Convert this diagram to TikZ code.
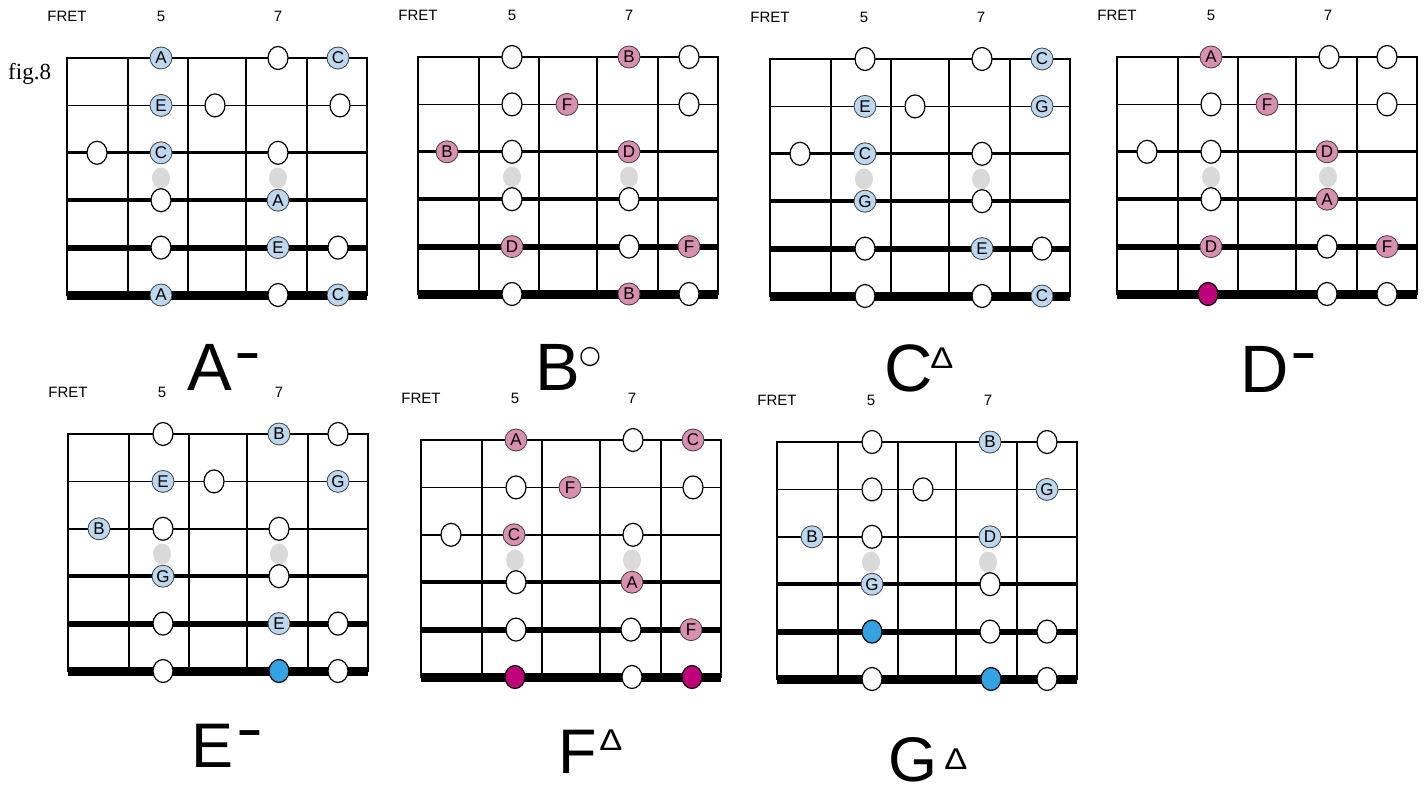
\documentclass[tikz,border=0pt]{standalone}
\usepackage{fontspec}
\setmainfont{Liberation Sans}
\newfontfamily\figfont{Liberation Serif}
\newfontfamily\symfont{DejaVu Sans}
\usepackage{tikz}
\usetikzlibrary{shapes.geometric}
\definecolor{noteblue}{RGB}{189,215,238}
\definecolor{notepink}{RGB}{217,143,176}
\definecolor{rootpink}{RGB}{192,0,122}
\definecolor{rootblue}{RGB}{52,163,228}
\definecolor{inlaygray}{RGB}{217,217,217}
\tikzset{
	opennote/.style={draw,ellipse,fill=white,line width=1.2pt,minimum width=20pt,minimum height=23pt,inner sep=0pt},
	bluenote/.style={draw=black!75,circle,fill=noteblue,line width=0.8pt,minimum size=22pt,inner sep=0pt,font=\fontsize{17}{17}\selectfont},
	pinknote/.style={bluenote,fill=notepink},
	pinkroot/.style={opennote,fill=rootpink},
	blueroot/.style={opennote,fill=rootblue},
	inlay/.style={ellipse,fill=inlaygray,minimum width=18pt,minimum height=21pt,inner sep=0pt},
	fretlabel/.style={inner sep=0pt,font=\fontsize{15}{15}\selectfont},
	chord/.style={anchor=base,inner sep=0pt,font=\fontsize{67}{67}\selectfont},
	chordsup/.style={inner sep=0pt},
}
\newcommand{\fretboard}{%
	\draw[line width=2pt] (0,-0.6)--(0,237.6) (61,-0.6)--(61,237.6) (121,-0.6)--(121,237.6)
		(179,-0.6)--(179,237.6) (240,-0.6)--(240,237.6) (300,-0.6)--(300,237.6);
	\draw[line width=1.4pt] (0,0)--(300,0);
	\draw[line width=1.4pt] (0,47.4)--(300,47.4);
	\draw[line width=2.6pt] (0,94.8)--(300,94.8);
	\draw[line width=4pt] (0,142.2)--(300,142.2);
	\draw[line width=6pt] (0,189.6)--(300,189.6);
	\draw[line width=9pt] (0,237)--(300,237);
	\node[inlay] (dot5) at (94,120) {};
	\node[inlay] (dot7) at (211,120) {};
	\node[fretlabel] (fret) at (0,-42) {FRET};
	\node[fretlabel] (five) at (94,-42) {5};
	\node[fretlabel] (seven) at (211,-42) {7};
}
\begin{document}
\begin{tikzpicture}[x=1pt,y=-1pt]
	\useasboundingbox (0,0) rectangle (1424,789);
	\node[anchor=base west,inner sep=0pt,font=\figfont\fontsize{23}{23}\selectfont] (fig) at (8,80) {fig.8};
	% A minor
	\begin{scope}[shift={(67,58)},name prefix=am-]
		\fretboard
		\node[bluenote] (s1f5) at (94,0) {A};
		\node[opennote] (s1f7) at (211,0) {};
		\node[bluenote] (s1f8) at (271,0) {C};
		\node[bluenote] (s2f5) at (94,47.4) {E};
		\node[opennote] (s2f6) at (148,47.4) {};
		\node[opennote] (s2f8) at (273,47.4) {};
		\node[opennote] (s3f4) at (30,94.8) {};
		\node[bluenote] (s3f5) at (94,94.8) {C};
		\node[opennote] (s3f7) at (211,94.8) {};
		\node[opennote] (s4f5) at (94,142.2) {};
		\node[bluenote] (s4f7) at (211,142.2) {A};
		\node[opennote] (s5f5) at (94,189.6) {};
		\node[bluenote] (s5f7) at (211,189.6) {E};
		\node[opennote] (s5f8) at (271,189.6) {};
		\node[bluenote] (s6f5) at (94,237) {A};
		\node[opennote] (s6f7) at (211,237) {};
		\node[bluenote] (s6f8) at (271,237) {C};
	\end{scope}
	% B diminished
	\begin{scope}[shift={(418,57)},name prefix=bdim-]
		\fretboard
		\node[opennote] (s1f5) at (94,0) {};
		\node[pinknote] (s1f7) at (211,0) {B};
		\node[opennote] (s1f8) at (271,0) {};
		\node[opennote] (s2f5) at (94,47.4) {};
		\node[pinknote] (s2f6) at (149,47.4) {F};
		\node[opennote] (s2f8) at (271,47.4) {};
		\node[pinknote] (s3f4) at (29,94.8) {B};
		\node[opennote] (s3f5) at (94,94.8) {};
		\node[pinknote] (s3f7) at (211,94.8) {D};
		\node[opennote] (s4f5) at (94,142.2) {};
		\node[opennote] (s4f7) at (211,142.2) {};
		\node[pinknote] (s5f5) at (94,189.6) {D};
		\node[opennote] (s5f7) at (211,189.6) {};
		\node[pinknote] (s5f8) at (271,189.6) {F};
		\node[opennote] (s6f5) at (94,237) {};
		\node[pinknote] (s6f7) at (211,237) {B};
		\node[opennote] (s6f8) at (271,237) {};
	\end{scope}
	% C major 7
	\begin{scope}[shift={(770,59)},name prefix=cmaj-]
		\fretboard
		\node[opennote] (s1f5) at (95,0) {};
		\node[opennote] (s1f7) at (212,0) {};
		\node[bluenote] (s1f8) at (272,0) {C};
		\node[bluenote] (s2f5) at (95,47.4) {E};
		\node[opennote] (s2f6) at (145,47.4) {};
		\node[bluenote] (s2f8) at (272,47.4) {G};
		\node[opennote] (s3f4) at (30,94.8) {};
		\node[bluenote] (s3f5) at (95,94.8) {C};
		\node[opennote] (s3f7) at (212,94.8) {};
		\node[bluenote] (s4f5) at (95,142.2) {G};
		\node[opennote] (s4f7) at (212,142.2) {};
		\node[opennote] (s5f5) at (95,189.6) {};
		\node[bluenote] (s5f7) at (212,189.6) {E};
		\node[opennote] (s5f8) at (272,189.6) {};
		\node[opennote] (s6f5) at (95,237) {};
		\node[opennote] (s6f7) at (212,237) {};
		\node[bluenote] (s6f8) at (272,237) {C};
	\end{scope}
	% D minor
	\begin{scope}[shift={(1117,57)},name prefix=dm-]
		\fretboard
		\node[pinknote] (s1f5) at (94,0) {A};
		\node[opennote] (s1f7) at (212,0) {};
		\node[opennote] (s1f8) at (270,0) {};
		\node[opennote] (s2f5) at (94,47.4) {};
		\node[pinknote] (s2f6) at (150,47.4) {F};
		\node[opennote] (s2f8) at (270,47.4) {};
		\node[opennote] (s3f4) at (30,94.8) {};
		\node[opennote] (s3f5) at (94,94.8) {};
		\node[pinknote] (s3f7) at (210,94.8) {D};
		\node[opennote] (s4f5) at (94,142.2) {};
		\node[pinknote] (s4f7) at (210,142.2) {A};
		\node[pinknote] (s5f5) at (94,189.6) {D};
		\node[opennote] (s5f7) at (210,189.6) {};
		\node[pinknote] (s5f8) at (270,189.6) {F};
		\node[pinkroot] (s6f5) at (91,237) {};
		\node[opennote] (s6f7) at (210,237) {};
		\node[opennote] (s6f8) at (270,237) {};
	\end{scope}
	% E minor
	\begin{scope}[shift={(68,434)},name prefix=em-]
		\fretboard
		\node[opennote] (s1f5) at (95,0) {};
		\node[bluenote] (s1f7) at (211,0) {B};
		\node[opennote] (s1f8) at (270,0) {};
		\node[bluenote] (s2f5) at (95,47.4) {E};
		\node[opennote] (s2f6) at (146,47.4) {};
		\node[bluenote] (s2f8) at (270,47.4) {G};
		\node[bluenote] (s3f4) at (31,94.8) {B};
		\node[opennote] (s3f5) at (95,94.8) {};
		\node[opennote] (s3f7) at (211,94.8) {};
		\node[bluenote] (s4f5) at (95,142.2) {G};
		\node[opennote] (s4f7) at (211,142.2) {};
		\node[opennote] (s5f5) at (95,189.6) {};
		\node[bluenote] (s5f7) at (211,189.6) {E};
		\node[opennote] (s5f8) at (270,189.6) {};
		\node[opennote] (s6f5) at (95,237) {};
		\node[blueroot] (s6f7) at (211,237) {};
		\node[opennote] (s6f8) at (270,237) {};
	\end{scope}
	% F major 7
	\begin{scope}[shift={(421,440)},name prefix=fmaj-]
		\fretboard
		\node[pinknote] (s1f5) at (95,0) {A};
		\node[opennote] (s1f7) at (212,0) {};
		\node[pinknote] (s1f8) at (272,0) {C};
		\node[opennote] (s2f5) at (95,47.4) {};
		\node[pinknote] (s2f6) at (149,47.4) {F};
		\node[opennote] (s2f8) at (272,47.4) {};
		\node[opennote] (s3f4) at (30,94.8) {};
		\node[pinknote] (s3f5) at (93,94.8) {C};
		\node[opennote] (s3f7) at (212,94.8) {};
		\node[opennote] (s4f5) at (95,142.2) {};
		\node[pinknote] (s4f7) at (211,142.2) {A};
		\node[opennote] (s5f5) at (95,189.6) {};
		\node[opennote] (s5f7) at (210,189.6) {};
		\node[pinknote] (s5f8) at (270,189.6) {F};
		\node[pinkroot] (s6f5) at (94,237) {};
		\node[opennote] (s6f7) at (211,237) {};
		\node[pinkroot] (s6f8) at (271,237) {};
	\end{scope}
	% G major 7
	\begin{scope}[shift={(777,442)},name prefix=gmaj-]
		\fretboard
		\node[opennote] (s1f5) at (95,0) {};
		\node[bluenote] (s1f7) at (213,0) {B};
		\node[opennote] (s1f8) at (270,0) {};
		\node[opennote] (s2f5) at (95,47.4) {};
		\node[opennote] (s2f6) at (146,47.4) {};
		\node[bluenote] (s2f8) at (270,47.4) {G};
		\node[bluenote] (s3f4) at (35,94.8) {B};
		\node[opennote] (s3f5) at (95,94.8) {};
		\node[bluenote] (s3f7) at (213,94.8) {D};
		\node[bluenote] (s4f5) at (95,142.2) {G};
		\node[opennote] (s4f7) at (213,142.2) {};
		\node[blueroot] (s5f5) at (95,189.6) {};
		\node[opennote] (s5f7) at (213,189.6) {};
		\node[opennote] (s5f8) at (270,189.6) {};
		\node[opennote] (s6f5) at (95,237) {};
		\node[blueroot] (s6f7) at (214,237) {};
		\node[opennote] (s6f8) at (270,237) {};
	\end{scope}
	% chord names
	\node[chord] (am) at (210,390) {A};
	\node[chordsup,anchor=base,font=\fontsize{62}{62}\selectfont] (amsup) at (248,372) {\scalebox{1.3}[1]{-}};
	\node[chord] (bdim) at (558,390) {B};
	\node[chordsup,font=\symfont\fontsize{25}{25}\selectfont] (bdimsup) at (590,357) {○};
	\node[chord] (cmaj) at (909,391) {C};
	\node[chordsup,font=\fontsize{30}{30}\selectfont] (cmajsup) at (942,358) {\scalebox{1.15}[1]{Δ}};
	\node[chord] (dm) at (1265,392) {D};
	\node[chordsup,anchor=base,font=\fontsize{62}{62}\selectfont] (dmsup) at (1304,372) {\scalebox{1.3}[1]{-}};
	\node[chord,font=\fontsize{63}{63}\selectfont] (em) at (213,767) {E};
	\node[chordsup,anchor=base,font=\fontsize{62}{62}\selectfont] (emsup) at (250,749) {\scalebox{1.3}[1]{-}};
	\node[chord,font=\fontsize{63}{63}\selectfont] (fmaj) at (578,773) {F};
	\node[chordsup,font=\fontsize{30}{30}\selectfont] (fmajsup) at (611,740) {\scalebox{1.15}[1]{Δ}};
	\node[chord,font=\fontsize{63}{63}\selectfont] (gmaj) at (913,781) {G};
	\node[chordsup,font=\fontsize{30}{30}\selectfont] (gmajsup) at (956,759) {\scalebox{1.15}[1]{Δ}};
\end{tikzpicture}
\end{document}
